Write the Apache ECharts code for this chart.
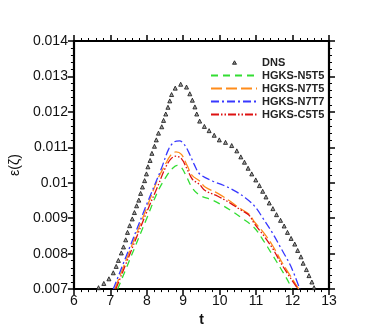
<!DOCTYPE html>
<html><head><meta charset="utf-8">
<script src="https://cdn.jsdelivr.net/npm/echarts@6/dist/echarts.min.js"></script>
<style>html,body{margin:0;padding:0;background:#fff}#c{width:374px;height:332px}</style>
</head><body><div id="c"></div>
<script>
var seriesNames = ['DNS','HGKS-N5T5','HGKS-N7T5','HGKS-N7T7','HGKS-C5T5'];
var xTicks = [6,7,8,9,10,11,12,13];
var yTicks = [0.007,0.008,0.009,0.010,0.011,0.012,0.013,0.014];

var dnsT = [6.675,6.82,6.96,7.08,7.16,7.22,7.30,7.36,7.42,7.47,7.53,7.60,7.66,7.72,7.78,7.83,7.88,7.94,7.99,8.03,8.09,8.14,8.21,8.26,8.32,8.41,8.46,8.52,8.58,8.63,8.68,8.78,8.93,9.09,9.18,9.25,9.32,9.37,9.45,9.58,9.71,9.85,9.99,10.16,10.33,10.47,10.58,10.68,10.78,10.88,10.99,11.09,11.18,11.27,11.36,11.46,11.56,11.67,11.77,11.86,11.96,12.06,12.14,12.23,12.29,12.38,12.45,12.53,12.59];
var dnsV = [0.00704,0.00716,0.00729,0.00746,0.00764,0.00781,0.00802,0.00819,0.00839,0.00860,0.00879,0.00898,0.00916,0.00935,0.00951,0.00970,0.00988,0.01006,0.01025,0.01045,0.01063,0.01083,0.01103,0.01121,0.01140,0.01158,0.01176,0.01194,0.01213,0.01231,0.01249,0.01267,0.01278,0.01270,0.01251,0.01233,0.01214,0.01194,0.01174,0.01159,0.01147,0.01134,0.01121,0.01114,0.01105,0.01090,0.01073,0.01058,0.01041,0.01025,0.01008,0.00992,0.00976,0.00960,0.00943,0.00927,0.00910,0.00894,0.00878,0.00860,0.00843,0.00827,0.00809,0.00791,0.00773,0.00755,0.00738,0.00720,0.00704];

var n5t5T = [7.2,7.5,8.0,8.3,8.55,8.7,8.83,8.95,9.1,9.25,9.45,9.8,10.1,10.35,10.6,10.95,11.2,11.45,11.7,11.9,11.97];
var n5t5V = [0.0070,0.00775,0.0090,0.00975,0.0102,0.0104,0.01049,0.01043,0.01015,0.00985,0.00965,0.00951,0.00935,0.00919,0.00901,0.00873,0.00837,0.00796,0.00754,0.00718,0.0070];

var n7t5T = [7.12,7.5,8.0,8.3,8.5,8.65,8.8,8.95,9.1,9.25,9.45,9.6,9.95,10.3,10.55,10.8,10.95,11.2,11.45,11.7,11.95,12.17];
var n7t5V = [0.0070,0.0080,0.0093,0.0101,0.01050,0.01077,0.01087,0.0108,0.0105,0.01020,0.01005,0.00988,0.0097,0.00947,0.00928,0.00912,0.0089,0.0086,0.00823,0.00777,0.00736,0.0070];

var n7t7T = [7.08,7.5,8.0,8.4,8.6,8.75,8.9,9.05,9.2,9.3,9.45,9.8,10.1,10.4,10.7,10.95,11.2,11.45,11.7,11.95,12.2];
var n7t7V = [0.0070,0.0081,0.0094,0.0104,0.01095,0.01115,0.01118,0.01105,0.01075,0.01052,0.01025,0.01005,0.00993,0.00978,0.00958,0.00935,0.00898,0.00858,0.00812,0.00765,0.0070];

var c5t5T = [7.15,7.5,8.0,8.3,8.5,8.65,8.8,8.95,9.1,9.25,9.45,9.6,9.95,10.3,10.55,10.8,10.95,11.2,11.45,11.7,11.95,12.15];
var c5t5V = [0.0070,0.0079,0.00918,0.0099,0.0104,0.01066,0.01075,0.01068,0.0104,0.0101,0.00995,0.00978,0.00962,0.00942,0.00925,0.00909,0.00885,0.00852,0.00815,0.0077,0.0073,0.0070];

var lineColors = ['#33dd33','#ff8c1a','#3838ff','#dd1111'];
var lineDashes = [[7,5],[11,4],[8,3,2,3],[8,2,1.5,2,1.5,2]];

function pairs(t, v){ return t.map(function(x,i){ return [x, v[i]]; }); }

var chart = echarts.init(document.getElementById('c'), null, {renderer:'canvas'});
var fam = '"Liberation Sans", Arial, sans-serif';
var tickCommon = {show:true, inside:false, length:6, lineStyle:{color:'#000', width:1.5}};
var minorCommon = {show:true, splitNumber:5, length:3, lineStyle:{color:'#000', width:1}};
var lineAxis = {show:true, onZero:false, lineStyle:{color:'#000', width:2.2}};

function lineSeries(idx, t, v){
  var color = lineColors[idx], dash = lineDashes[idx];
  return {name:seriesNames[idx+1], type:'line', data:pairs(t,v), xAxisIndex:0, yAxisIndex:0,
    showSymbol:false, symbol:'none', smooth:0.35,
    lineStyle:{color:color, width:1.3, type:dash}, itemStyle:{color:color}, z:3};
}

var legendData = seriesNames.map(function(n, i){
  if (i === 0) return {name:n, icon:'path://M0,6L0,6M21.5,6L23.5,2.5L25.5,6ZM46,6L46,6', itemStyle:{color:'#666', borderColor:'#111', borderWidth:1}};
  return {name:n, itemStyle:{opacity:0}};
});

chart.setOption({
  animation:false,
  backgroundColor:'#fff',
  grid:{left:49, right:45, top:41, bottom:37},
  legend:{
    orient:'vertical', left:205, top:52, itemWidth:46, itemHeight:6, itemGap:2,
    textStyle:{fontFamily:fam, fontSize:11, fontWeight:'bold', color:'#222'},
    data:legendData
  },
  xAxis:[{
    type:'value', min:6, max:13, interval:1, position:'bottom',
    axisLine:lineAxis, axisTick:tickCommon, minorTick:minorCommon,
    splitLine:{show:false}, minorSplitLine:{show:false},
    axisLabel:{fontFamily:fam, fontSize:14, color:'#111', margin:5, formatter:function(v){return String(v);}},
    name:'t', nameLocation:'middle', nameGap:18,
    nameTextStyle:{fontFamily:fam, fontSize:14, fontWeight:'bold', color:'#111'}
  },{
    type:'value', min:6, max:13, interval:1, position:'top',
    axisLine:lineAxis, axisTick:tickCommon, minorTick:minorCommon,
    splitLine:{show:false}, axisLabel:{show:false}
  }],
  yAxis:[{
    type:'value', min:0.007, max:0.014, interval:0.001, position:'left',
    axisLine:lineAxis, axisTick:tickCommon, minorTick:minorCommon,
    splitLine:{show:false}, minorSplitLine:{show:false},
    axisLabel:{fontFamily:fam, fontSize:14, color:'#111', margin:6, formatter:function(v){ var s=(+v).toFixed(3); return s==='0.010'?'0.01':s; }},
    name:'ε(ζ)', nameLocation:'middle', nameGap:35, nameRotate:90,
    nameTextStyle:{fontFamily:fam, fontSize:14, color:'#111'}
  },{
    type:'value', min:0.007, max:0.014, interval:0.001, position:'right',
    axisLine:lineAxis, axisTick:tickCommon, minorTick:minorCommon,
    splitLine:{show:false}, axisLabel:{show:false}
  }],
  series:[
    {name:'DNS', type:'scatter', data:pairs(dnsT,dnsV), symbol:'triangle', symbolSize:4,
     itemStyle:{color:'#888', borderColor:'#111', borderWidth:1}, z:4},
    lineSeries(0, n5t5T, n5t5V),
    lineSeries(1, n7t5T, n7t5V),
    lineSeries(2, n7t7T, n7t7V),
    lineSeries(3, c5t5T, c5t5V)
  ]
});
</script>
</body></html>
